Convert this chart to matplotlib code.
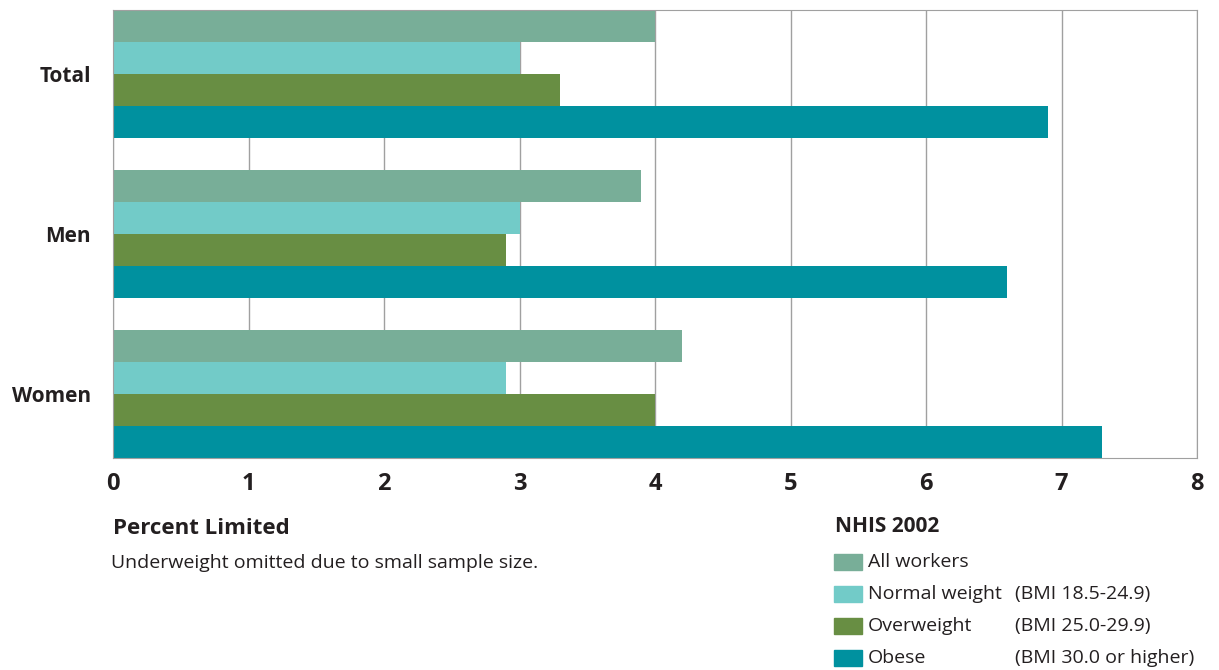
import matplotlib.pyplot as plt
import matplotlib.patches as mpatches
import numpy as np

plt.rcParams['font.family'] = ['Open Sans', 'DejaVu Sans']

groups = ["Total", "Men", "Women"]
series = ["All workers", "Normal weight", "Overweight", "Obese"]
bmi_notes = ["", "(BMI 18.5-24.9)", "(BMI 25.0-29.9)", "(BMI 30.0 or higher)"]
all_workers = [4.0, 3.9, 4.2]
normal_weight = [3.0, 3.0, 2.9]
overweight = [3.3, 2.9, 4.0]
obese = [6.9, 6.6, 7.3]
colors = ["#78ae98", "#72cbc8", "#688e43", "#00919f"]

values = [all_workers, normal_weight, overweight, obese]

fig = plt.figure(figsize=(12.19, 6.7), dpi=100)
ax = fig.add_axes([113 / 1219, 1 - 458 / 670, (1197 - 113) / 1219, 448 / 670])

y = np.arange(len(groups))
h = 0.2
for i, vals in enumerate(values):
    ax.barh(y - 0.3 + i * h, vals, height=h, color=colors[i], zorder=2)

ax.set_xlim(0, 8)
ax.set_ylim(2.4, -0.4)
ax.set_xticks(range(9))
ax.set_yticks(y)
ax.set_yticklabels(groups, fontsize=15, fontweight='bold', color='#231f20')
ax.set_xticklabels([str(v) for v in range(9)], fontsize=17, fontweight='bold', color='#231f20')
ax.tick_params(length=0, pad=10)
ax.tick_params(axis='y', pad=24)
for lbl in ax.get_yticklabels():
    lbl.set_x(-0.0)
ax.tick_params(axis='y', pad=16)
ax.grid(axis='x', color='#a0a0a0', lw=1, zorder=0)
for s in ax.spines.values():
    s.set_color('#a0a0a0')

fig.text(113 / 1219, 1 - 528 / 670, "Percent Limited", fontsize=16, fontweight='bold',
         va='center', color='#231f20')
fig.text(111 / 1219, 1 - 563 / 670, "Underweight omitted due to small sample size.",
         fontsize=14, va='center', color='#231f20')

fig.text(835 / 1219, 1 - 527 / 670, "NHIS 2002", fontsize=15, fontweight='bold',
         va='center', color='#231f20')
rows = [562, 594, 626, 658]
for i, name in enumerate(series):
    yc = 1 - rows[i] / 670
    fig.patches.append(mpatches.Rectangle((834 / 1219, yc - 8 / 670), 28 / 1219, 16 / 670,
                                          transform=fig.transFigure, color=colors[i]))
    fig.text(868 / 1219, yc, name, fontsize=14, va='center', color='#231f20')
    if bmi_notes[i]:
        fig.text(1015 / 1219, yc, bmi_notes[i], fontsize=14, va='center', color='#231f20')

fig.savefig("out.png", dpi=100)
